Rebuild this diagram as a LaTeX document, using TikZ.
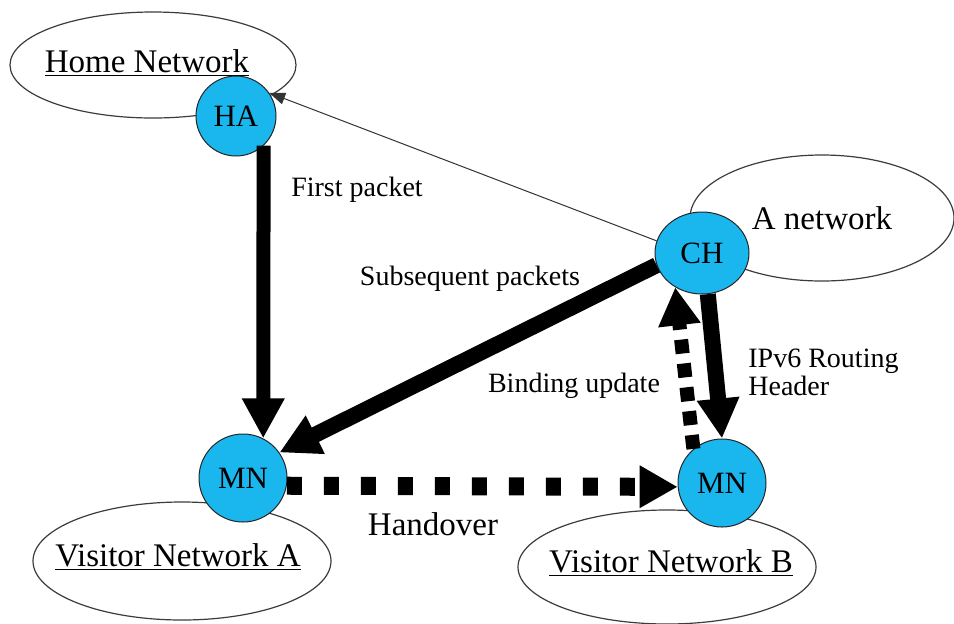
\documentclass[tikz,border=0pt]{standalone}
\usepackage{fontspec}
\setmainfont{Liberation Serif}
\usetikzlibrary{positioning,shapes.geometric,arrows.meta}
\definecolor{hostCyan}{HTML}{1AB6EE}
\definecolor{rimGrey}{HTML}{3C3C3C}

\begin{document}
\begin{tikzpicture}[x=0.5pt,y=-0.5pt,
  net/.style={ellipse,draw=rimGrey,line width=0.6pt,inner sep=0pt},
  netname/.style={font=\fontsize{16.5}{18}\selectfont,inner sep=0pt},
  host/.style={circle,draw=black!85,fill=hostCyan,line width=0.5pt,inner sep=0pt,minimum size=44pt,font=\fontsize{15.5}{16}\selectfont},
  heavy/.style={line width=8pt,-{Triangle[length=20pt,width=20pt]}},
  hop/.style={line width=7pt,dash pattern=on 7.5pt off 11pt,-{Triangle[length=19pt,width=20pt]}},
  lbl/.style={font=\fontsize{14}{14}\selectfont,inner sep=0pt}]
  \useasboundingbox (0,0) rectangle (954,623);
  \fill[white] (0,0) rectangle (954,623);

  \node[net,minimum width=143pt,minimum height=53pt,label={[netname,xshift=-3pt,yshift=1pt]center:\underline{Home Network}}] (homenet) at (153,65) {};
  \node[net,minimum width=132pt,minimum height=63pt,label={[netname]center:A network}] (anet) at (822,218) {};
  \node[net,minimum width=149pt,minimum height=59pt,label={[netname,xshift=-2pt,yshift=2pt]center:\underline{Visitor Network A}}] (visA) at (182,561) {};
  \node[net,minimum width=149pt,minimum height=57pt,label={[netname,xshift=2pt,yshift=2pt]center:\underline{Visitor Network B}}] (visB) at (667,567) {};

  \node[host,minimum size=40pt] (ha) at (236,116) {HA};
  \node[host,ellipse,minimum width=47pt,minimum height=41pt] (ch) at (702,253) {CH};
  \node[host] (mnA) at (243,478) {MN};
  \node[host] (mnB) at (722,483) {MN};

  \draw[line width=0.5pt,black!80,-{Triangle[length=8pt,width=6pt]}] (ch.165) -- (ha.35);
  \draw[heavy,line width=7pt] (ha.313) -- (mnA.63);
  \draw[heavy] (ch.195) -- (mnA.35);
  \draw[heavy] (ch.278) -- (mnB.north);
  \draw[hop,dash pattern=on 7pt off 5pt] (mnB.130) -- (ch.232);
  \draw[hop,line width=9pt] (mnA.-10) -- (mnB.185);

  \node[lbl] (first) at (357,190) {First packet};
  \node[lbl] (subseq) at (470,279) {Subsequent packets};
  \node[lbl] (bind) at (574,386) {Binding update};
  \node[lbl,anchor=west,align=left] (rthdr) at (748,372) {IPv6 Routing\\Header};
  \node[lbl,font=\fontsize{16.5}{18}\selectfont] (handover) at (433,524) {Handover};
\end{tikzpicture}
\end{document}
